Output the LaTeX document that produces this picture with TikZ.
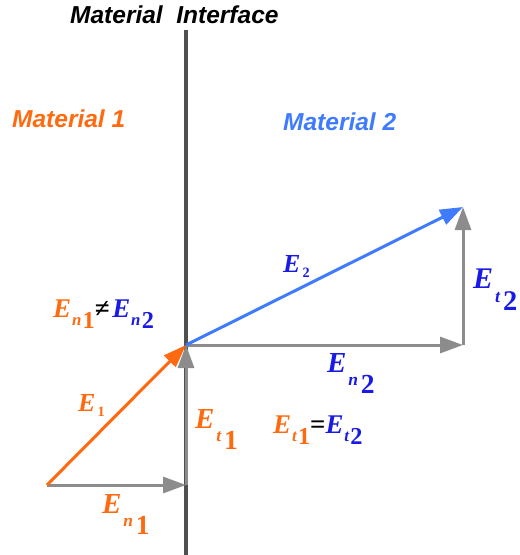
\documentclass[tikz,border=0pt]{standalone}
\usepackage{fontspec}
\setmainfont{Liberation Serif}
\setsansfont{Liberation Sans}
\usetikzlibrary{arrows.meta}
\definecolor{orng}{HTML}{FF6A10}
\definecolor{lblue}{HTML}{3F7BFF}
\definecolor{dblue}{HTML}{1A1AE6}
\definecolor{gry}{HTML}{8C8C8C}
\definecolor{dgry}{HTML}{505050}
% big labels: E, small letter, big digit, well lowered
\newcommand\EE[2]{{\bfseries\itshape E\kern0.06em\raisebox{-0.48em}{\scalebox{0.6}{#1}}\kern0.1em\raisebox{-0.75em}{\scalebox{0.95}{\upshape #2}}}}
% compact labels in the relations
\newcommand\EC[2]{{\bfseries\itshape E\kern0.03em\raisebox{-0.33em}{\scalebox{0.62}{#1}}\kern0.05em\raisebox{-0.42em}{\scalebox{0.9}{\upshape #2}}}}
\newcommand\EB[1]{{\bfseries\itshape E\kern0.08em\raisebox{-0.2em}{\scalebox{0.55}{\upshape #1}}}}
\begin{document}
\begin{tikzpicture}[x=1pt,y=-1pt,
  vec/.style={line width=3pt,-{Triangle[length=23pt,width=16pt]}},
  gvec/.style={vec,draw=gry,fill=gry},
  mat/.style={font=\sffamily\bfseries\itshape\fontsize{24.5}{24.5}\selectfont,inner sep=0pt,anchor=base west},
  lab/.style={inner sep=0pt,anchor=base west}]
\useasboundingbox (0,0) rectangle (520,555);
\coordinate (O) at (186,345);
\coordinate (A) at (47,485);
\coordinate (B) at (186,485);
\coordinate (C) at (463,345);
\coordinate (D) at (463,207);
\coordinate (top) at (186,30);
\coordinate (bot) at (186,555);
\draw[dgry,line width=3.5pt] (top) -- (bot);
\node[mat,text=black] (title) at (70,23) {Material\ \ Interface};
\node[mat,text=orng] (m1) at (12,127) {Material 1};
\node[mat,text=lblue] (m2) at (283,130) {Material 2};
\draw[gvec] (A) -- (B);
\draw[gvec] (B) -- (O);
\draw[gvec] (O) -- (C);
\draw[gvec] (C) -- (D);
\draw[vec,orng] (A) -- (O);
\draw[vec,lblue] (O) -- (D);
\node[lab,text=orng,font=\fontsize{26}{26}\selectfont] (lE1) at (78,411) {\EB{1}};
\node[lab,text=orng,font=\fontsize{29}{29}\selectfont] (lEt1) at (195,428) {\EE{t}{1}};
\node[lab,text=orng,font=\fontsize{29}{29}\selectfont] (lEn1) at (102,513) {\EE{n}{1}};
\node[lab,text=dblue,font=\fontsize{26}{26}\selectfont] (lE2) at (283,272) {\EB{2}};
\node[lab,text=dblue,font=\fontsize{30}{30}\selectfont] (lEt2) at (473,288) {\EE{t}{2}};
\node[lab,text=dblue,font=\fontsize{29}{29}\selectfont] (lEn2) at (327,372) {\EE{n}{2}};
\node[lab,font=\fontsize{27}{27}\selectfont] (neq) at (53,317) {\textcolor{orng}{\EC{n}{1}}\textcolor{black}{\bfseries ≠}\kern0.1em\textcolor{dblue}{\EC{n}{2}}};
\node[lab,font=\fontsize{27}{27}\selectfont] (eq) at (273,433) {\textcolor{orng}{\EC{t}{1}}\textcolor{black}{\bfseries =}\textcolor{dblue}{\EC{t}{2}}};
\end{tikzpicture}
\end{document}
